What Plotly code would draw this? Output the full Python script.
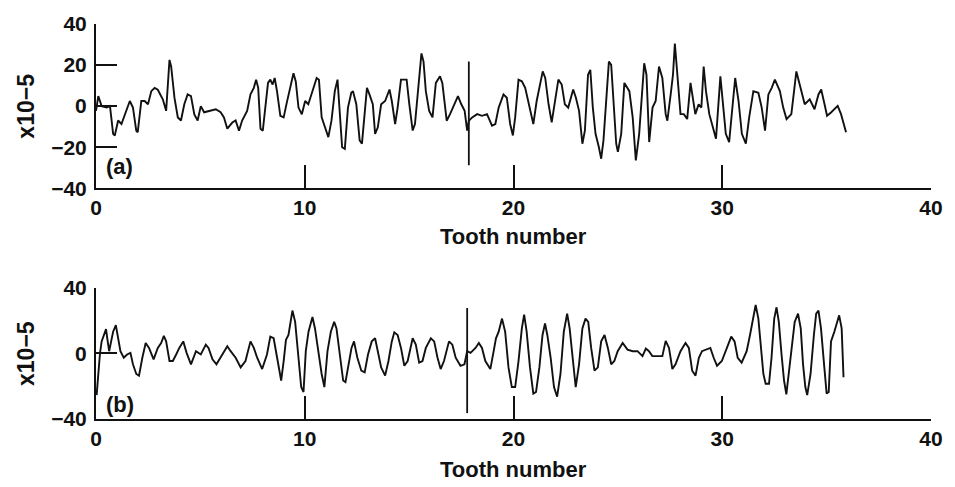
import plotly.graph_objects as go

# ---------------- data ----------------
tooth_a = [0.00,0.11,0.27,0.51,0.67,0.82,0.90,1.06,1.22,1.38,1.62,1.77,1.93,2.00,2.17,2.33,2.49,2.65,2.81,2.96,
           3.20,3.36,3.52,3.60,3.76,3.92,4.07,4.23,4.39,4.55,4.71,4.87,5.02,5.18,5.42,5.74,5.97,6.13,6.29,6.53,
           6.69,6.85,7.00,7.24,7.40,7.56,7.67,7.77,7.88,7.99,8.11,8.24,8.35,8.46,8.56,8.67,8.83,8.99,9.14,9.30,
           9.46,9.57,9.70,9.86,10.02,10.17,10.41,10.57,10.68,10.81,10.97,11.13,11.28,11.44,11.57,11.68,11.79,11.92,
           12.07,12.23,12.31,12.47,12.63,12.74,12.87,12.98,13.10,13.26,13.37,13.50,13.66,13.85,14.06,14.17,14.33,
           14.45,14.61,14.77,14.88,15.01,15.17,15.28,15.44,15.59,15.69,15.80,15.96,16.12,16.28,16.48,16.59,16.80,
           16.96,17.15,17.34,17.50,17.66,17.78,17.86,18.02,18.26,18.49,18.73,18.97,19.13,19.29,19.52,19.68,19.84,
           19.97,20.08,20.24,20.40,20.56,20.76,20.95,21.11,21.27,21.40,21.52,21.68,21.83,21.99,22.15,22.31,22.46,
           22.62,22.78,22.86,22.99,23.14,23.30,23.42,23.57,23.68,23.80,23.93,24.09,24.20,24.31,24.44,24.57,24.68,
           24.81,24.92,25.00,25.16,25.31,25.55,25.71,25.86,26.02,26.18,26.26,26.37,26.50,26.66,26.81,26.97,27.13,
           27.29,27.37,27.53,27.64,27.73,27.84,28.00,28.16,28.32,28.48,28.59,28.71,28.87,29.00,29.11,29.22,29.38,
           29.59,29.70,29.91,30.02,30.17,30.33,30.49,30.62,30.78,30.94,31.13,31.29,31.49,31.73,31.89,32.05,32.21,
           32.37,32.52,32.76,32.92,33.08,33.31,33.47,33.55,33.71,33.95,34.19,34.42,34.61,34.74,34.90,35.02,35.21,
           35.53,35.69,35.81,35.93]
value_a = [-2.3,4.9,0.0,-0.7,0.0,-13.5,-14.3,-7.0,-8.7,-4.0,2.5,-0.7,-12.0,-12.7,2.5,2.5,0.9,7.3,8.9,8.0,
           3.3,-2.3,22.5,19.3,4.0,-5.5,-7.0,0.9,5.7,4.9,-4.0,-7.0,0.0,-3.0,-2.3,-1.5,-3.0,-5.5,-11.0,-8.0,
           -7.0,-12.0,-7.0,-2.3,5.7,8.9,12.9,8.9,-11.0,-12.0,-0.7,11.3,12.9,10.5,13.7,7.3,-4.7,-5.5,1.7,8.9,
           16.0,12.0,-0.7,-4.0,2.5,0.9,8.9,13.7,12.9,-5.5,-10.3,-15.1,-7.1,7.3,12.9,-2.3,-20.0,-20.8,
           -0.7,6.5,7.3,0.9,-16.7,-18.3,-3.9,8.9,5.7,0.9,-13.5,-10.3,0.9,2.5,8.1,2.5,-8.7,
           -0.7,12.9,12.9,12.9,0.9,-11.9,-8.7,7.3,25.7,21.7,7.3,-2.3,-5.5,11.3,14.5,11.3,-7.1,
           -3.9,0.9,4.9,0.9,-2.3,-11.9,-7.1,-5.5,-3.9,-4.7,-3.9,-9.5,-8.7,-0.7,5.7,4.1,-8.7,
           -14.3,-5.5,12.9,12.1,8.9,-0.7,-8.7,2.5,10.5,16.9,13.7,0.9,-7.9,2.5,12.9,10.5,0.9,
           -0.7,5.7,8.1,4.1,-2.3,-18.3,-11.9,15.3,17.7,-0.7,-13.5,-20.0,-25.6,-16.7,0.9,21.7,20.1,
           0.9,-18.3,-22.3,-13.5,11.3,7.3,-5.5,-26.4,-13.5,7.3,20.9,15.3,-17.5,-0.7,2.5,19.3,13.7,
           -3.9,-7.1,5.7,15.3,30.5,15.3,-3.9,-3.9,-6.3,11.3,4.1,-3.9,0.9,-0.7,19.3,7.3,-3.9,
           -11.9,-15.9,14.5,2.5,-13.5,-17.5,0.9,13.7,2.5,-13.5,-18.3,-5.5,7.3,6.5,-0.7,-11.9,5.7,
           8.9,12.9,7.3,-0.7,-6.3,-3.9,8.9,16.9,10.5,0.9,3.3,-1.5,5.7,8.1,0.9,-4.7,-3.1,
           0.1,-3.9,-8.7,-12.7]

tooth_b = [0.03,0.11,0.19,0.27,0.38,0.48,0.54,0.63,0.74,0.82,0.95,1.06,1.17,1.33,1.49,1.65,1.77,1.93,2.06,2.22,
           2.38,2.54,2.76,2.96,3.12,3.25,3.36,3.52,3.68,3.84,3.99,4.18,4.34,4.55,4.79,5.02,5.26,5.39,5.58,5.77,
           5.97,6.13,6.29,6.45,6.69,6.93,7.16,7.40,7.56,7.72,7.96,8.19,8.35,8.51,8.72,8.87,8.99,9.10,9.22,9.41,
           9.54,9.67,9.83,9.94,10.05,10.18,10.37,10.49,10.65,10.81,10.94,11.09,11.25,11.41,11.52,11.68,11.84,11.95,
           12.08,12.24,12.36,12.52,12.71,12.87,13.03,13.21,13.37,13.50,13.66,13.85,14.01,14.17,14.29,14.45,14.61,
           14.77,14.93,15.17,15.32,15.48,15.64,15.80,16.04,16.20,16.36,16.51,16.67,16.91,17.07,17.23,17.46,17.65,
           17.78,17.94,18.18,18.34,18.49,18.65,18.89,19.05,19.16,19.29,19.45,19.60,19.76,19.92,20.08,20.24,20.40,
           20.51,20.63,20.79,20.95,21.08,21.24,21.39,21.51,21.62,21.78,21.94,22.09,22.25,22.41,22.57,22.69,22.85,
           22.98,23.14,23.30,23.45,23.58,23.72,23.88,24.04,24.20,24.36,24.52,24.68,24.83,24.99,25.23,25.46,25.71,
           25.94,26.18,26.34,26.49,26.65,26.89,27.13,27.29,27.45,27.61,27.76,28.00,28.24,28.40,28.56,28.72,28.88,
           29.03,29.27,29.43,29.59,29.75,29.98,30.22,30.43,30.59,30.74,30.93,31.17,31.33,31.49,31.60,31.73,31.85,
           31.97,32.08,32.24,32.36,32.49,32.60,32.71,32.84,32.96,33.07,33.19,33.34,33.47,33.63,33.76,33.87,33.98,
           34.07,34.23,34.39,34.50,34.61,34.73,34.89,35.00,35.10,35.21,35.37,35.49,35.60,35.72,35.76,35.81]
value_b = [-25.4,-12.5,0.0,7.4,11.3,14.9,9.3,1.4,8.3,13.3,17.3,9.3,1.4,-2.6,-0.6,0.4,-6.6,-12.5,-13.5,-2.6,
           6.4,3.4,-3.6,3.4,6.4,10.7,7.4,-4.6,-4.6,-0.6,3.4,7.4,0.4,-6.6,1.4,-0.6,5.4,3.4,-3.6,-6.6,
           -2.6,0.4,4.4,1.4,-2.6,-8.5,-4.6,7.4,3.4,-2.6,-9.5,-0.6,10.3,9.3,-6.6,-16.5,-4.6,8.3,11.3,26.2,
           19.3,3.4,-20.5,-23.5,1.4,13.3,22.3,15.3,1.4,-12.5,-20.5,1.4,13.3,19.3,15.3,-0.6,-16.5,-17.5,
           -8.5,3.4,7.4,-2.6,-10.5,-11.5,-0.6,7.4,9.3,1.4,-8.5,-13.5,-4.6,7.4,12.9,11.3,3.4,
           -7.5,-4.6,9.3,5.4,-5.6,-4.6,3.4,9.3,7.4,-2.6,-9.5,-4.6,7.4,5.4,-2.6,-7.5,-6.6,
           1.4,0.4,3.4,6.4,3.4,-4.6,-9.5,1.4,9.3,13.3,21.3,13.3,-8.5,-20.5,-20.5,-4.6,15.3,
           23.7,13.3,-8.5,-24.5,-23.5,-8.5,11.3,18.3,11.3,-2.6,-20.5,-26.4,-12.5,13.3,24.3,15.3,-4.6,
           -20.5,-6.6,15.3,21.3,19.3,3.4,-10.5,-8.5,7.4,11.3,3.4,-6.6,-4.6,1.4,6.4,2.4,1.4,
           1.4,-1.6,3.0,1.4,-1.6,-1.6,-1.6,7.7,3.4,-9.5,-6.6,1.4,6.4,3.4,-10.5,-13.5,-2.6,
           1.4,2.4,3.4,-2.6,-7.5,-4.6,3.4,10.3,7.4,-2.6,-5.6,1.4,11.3,21.3,29.6,21.3,5.4,
           -12.5,-18.5,-18.5,-2.6,21.3,28.2,19.3,-0.6,-16.5,-24.9,-12.5,3.4,19.3,24.3,15.3,-6.6,-20.5,
           -25.4,-12.5,11.3,24.3,26.2,15.3,-8.5,-24.5,-23.5,7.4,13.3,19.3,23.3,15.3,-2.6,-14.5]

# vertical marker lines (one revolution mark) in each record
marker_a_x = [17.86, 17.86]
marker_a_y = [21.7, -28.8]
marker_b_x = [17.78, 17.78]
marker_b_y = [27.8, -36.4]

x_ticks = [0, 10, 20, 30, 40]
y_ticks_a = [-40, -20, 0, 20, 40]
y_ticks_b = [-40, 0, 40]
x_title = "Tooth number"
y_title = "x10\u22125"
panel_labels = ["(a)", "(b)"]

# ---------------- figure ----------------
FONT = "Liberation Sans, Arial, Helvetica, sans-serif"
INK = "#111111"
line_style = dict(color=INK, width=1.9)

fig = go.Figure()
fig.add_trace(go.Scatter(x=tooth_a, y=value_a, mode="lines", line=line_style,
                         xaxis="x", yaxis="y", showlegend=False))
fig.add_trace(go.Scatter(x=marker_a_x, y=marker_a_y, mode="lines", line=dict(color=INK, width=1.8),
                         xaxis="x", yaxis="y", showlegend=False))
fig.add_trace(go.Scatter(x=tooth_b, y=value_b, mode="lines", line=line_style,
                         xaxis="x2", yaxis="y2", showlegend=False))
fig.add_trace(go.Scatter(x=marker_b_x, y=marker_b_y, mode="lines", line=dict(color=INK, width=1.8),
                         xaxis="x2", yaxis="y2", showlegend=False))

W, H = 955, 487
ML, MR, MT, MB = 96, 18, 15, 68
PW, PH = W - ML - MR, H - MT - MB

def py(pix):
    return (H - MB - pix) / PH

def px(pix):
    return (pix - ML) / PW

tickfont = dict(family=FONT, size=21, color=INK, weight="bold")

xa = dict(range=[0, 40], tickvals=x_ticks, ticktext=[str(v) for v in x_ticks],
          ticks="inside", ticklen=23, tickwidth=1.5, tickcolor=INK,
          showline=True, linecolor=INK, linewidth=2, showgrid=False, zeroline=False,
          tickfont=tickfont, ticklabelstandoff=0)
ya = dict(range=[-40, 40], ticks="inside", ticklen=21, tickwidth=1.5, tickcolor=INK,
          showline=True, linecolor=INK, linewidth=2, showgrid=False, zeroline=False,
          tickfont=tickfont, ticklabelstandoff=3)

fig.update_layout(
    width=W, height=H,
    margin=dict(l=ML, r=MR, t=MT, b=MB),
    paper_bgcolor="white", plot_bgcolor="white",
    xaxis=dict(xa, domain=[0, 1], anchor="y"),
    yaxis=dict(ya, domain=[py(183), 1], anchor="x", tickvals=y_ticks_a,
               ticktext=[str(v).replace("-", "\u2212") for v in y_ticks_a]),
    xaxis2=dict(xa, domain=[0, 1], anchor="y2"),
    yaxis2=dict(ya, domain=[0, py(285)], anchor="x2", tickvals=y_ticks_b,
                ticktext=[str(v).replace("-", "\u2212") for v in y_ticks_b]),
)

title_font = dict(family=FONT, size=22, color=INK, weight="bold")
ann = []
for ycen in (99, 352):
    ann.append(dict(text=y_title, xref="paper", yref="paper", x=px(26), y=py(ycen),
                    xanchor="center", yanchor="middle", textangle=-90, showarrow=False,
                    font=dict(title_font, size=23)))
for ycen in (232, 471):
    ann.append(dict(text=x_title, xref="paper", yref="paper", x=0.5, y=py(ycen),
                    xanchor="center", yanchor="middle", showarrow=False, font=title_font))
for lab, ycen in zip(panel_labels, (161, 404)):
    ann.append(dict(text=lab, xref="paper", yref="paper", x=px(120), y=py(ycen),
                    xanchor="center", yanchor="middle", showarrow=False, font=title_font))
fig.update_layout(annotations=ann)

fig.write_html("out.html")
